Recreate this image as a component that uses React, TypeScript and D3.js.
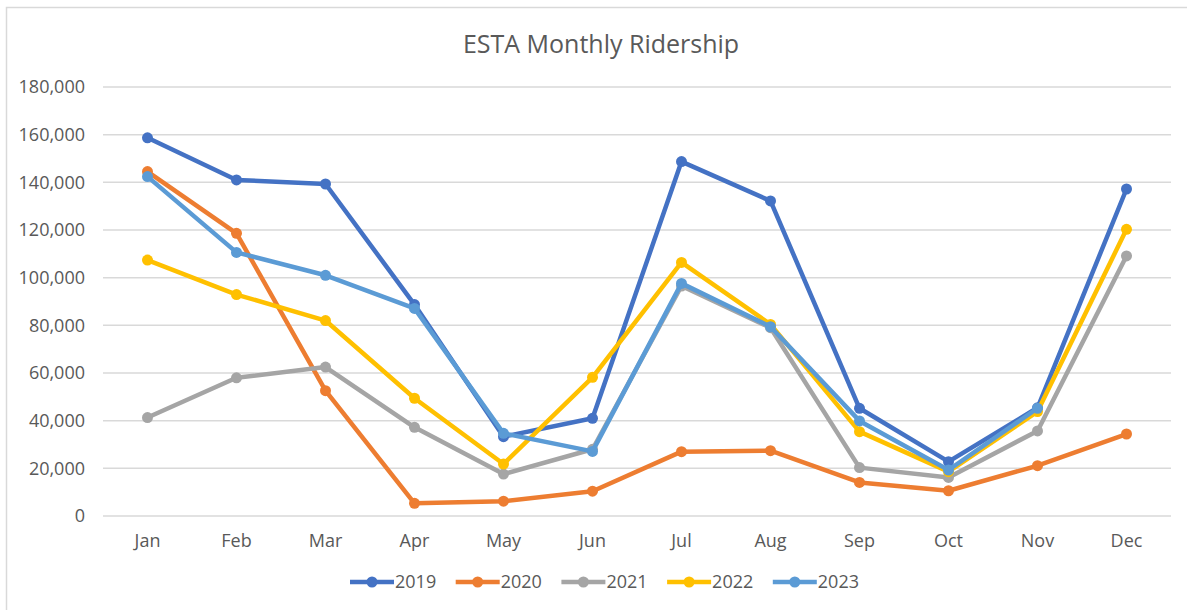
import React, { useEffect, useRef } from "react";
import * as d3 from "d3";

const months = ["Jan", "Feb", "Mar", "Apr", "May", "Jun", "Jul", "Aug", "Sep", "Oct", "Nov", "Dec"];
const years = ["2019", "2020", "2021", "2022", "2023"];
const colors = ["#4472C4", "#ED7D31", "#A5A5A5", "#FFC000", "#5B9BD5"];

const r2019 = [158700, 141000, 139300, 88700, 33300, 41000, 148700, 132200, 45200, 22800, 45400, 137200];
const r2020 = [144500, 118600, 52600, 5300, 6200, 10400, 27000, 27400, 14100, 10600, 21100, 34400];
const r2021 = [41300, 58000, 62500, 37200, 17600, 28000, 96500, 79000, 20300, 16200, 35700, 109100];
const r2022 = [107400, 92900, 82000, 49400, 21800, 58200, 106400, 80400, 35400, 18600, 43800, 120300];
const r2023 = [142400, 110600, 101000, 87100, 34700, 27100, 97600, 79400, 39900, 19300, 45200];

const yTicks = [0, 20000, 40000, 60000, 80000, 100000, 120000, 140000, 160000, 180000];

const App: React.FC = () => {
  const svgRef = useRef<SVGSVGElement>(null);

  useEffect(() => {
    if (!svgRef.current) return;
    const width = 1187;
    const height = 610;
    const font = "'Open Sans', 'Liberation Sans', sans-serif";
    const textColor = "#595959";

    const series = [r2019, r2020, r2021, r2022, r2023];

    const svg = d3.select(svgRef.current).attr("width", width).attr("height", height);
    svg.selectAll("*").remove();

    // chart frame
    svg
      .append("rect")
      .attr("x", 6.5)
      .attr("y", 7.5)
      .attr("width", 1200)
      .attr("height", 620)
      .attr("fill", "#fff")
      .attr("stroke", "#d9d9d9")
      .attr("stroke-width", 1.5);

    const xScale = d3.scaleBand<string>().domain(months).range([103, 1171]);
    const yScale = d3.scaleLinear().domain([0, 180000]).range([516, 87]);
    const cx = (m: string) => (xScale(m) || 0) + xScale.bandwidth() / 2;

    // title
    svg
      .append("text")
      .attr("x", 601)
      .attr("y", 53)
      .attr("text-anchor", "middle")
      .attr("font-family", font)
      .attr("font-size", 25)
      .attr("fill", textColor)
      .text("ESTA Monthly Ridership");

    // gridlines + y labels
    const yAxis = svg.append("g");
    yAxis
      .selectAll("line")
      .data(yTicks)
      .join("line")
      .attr("x1", 103)
      .attr("x2", 1171)
      .attr("y1", (d) => yScale(d))
      .attr("y2", (d) => yScale(d))
      .attr("stroke", "#d9d9d9")
      .attr("stroke-width", 1.5);
    yAxis
      .selectAll("text")
      .data(yTicks)
      .join("text")
      .attr("x", 85)
      .attr("y", (d) => yScale(d))
      .attr("dy", "0.35em")
      .attr("text-anchor", "end")
      .attr("font-family", font)
      .attr("font-size", 18)
      .attr("fill", textColor)
      .text((d) => d3.format(",")(d));

    // x labels
    svg
      .append("g")
      .selectAll("text")
      .data(months)
      .join("text")
      .attr("x", (d) => cx(d))
      .attr("y", 541)
      .attr("dy", "0.35em")
      .attr("text-anchor", "middle")
      .attr("font-family", font)
      .attr("font-size", 18)
      .attr("fill", textColor)
      .text((d) => d);

    const line = d3
      .line<number>()
      .x((_, i) => cx(months[i]))
      .y((d) => yScale(d));

    series.forEach((vals, si) => {
      const g = svg.append("g");
      g.append("path")
        .datum(vals)
        .attr("fill", "none")
        .attr("stroke", colors[si])
        .attr("stroke-width", 4.5)
        .attr("stroke-linejoin", "round")
        .attr("d", line);
      g.selectAll("circle")
        .data(vals)
        .join("circle")
        .attr("cx", (_, i) => cx(months[i]))
        .attr("cy", (d) => yScale(d))
        .attr("r", 5.5)
        .attr("fill", colors[si]);
    });

    // legend
    const legend = svg.append("g");
    years.forEach((y, i) => {
      const x0 = 350 + i * 105.7;
      const ly = 582;
      legend
        .append("line")
        .attr("x1", x0)
        .attr("x2", x0 + 44)
        .attr("y1", ly)
        .attr("y2", ly)
        .attr("stroke", colors[i])
        .attr("stroke-width", 4.5);
      legend
        .append("circle")
        .attr("cx", x0 + 22)
        .attr("cy", ly)
        .attr("r", 5.5)
        .attr("fill", colors[i]);
      legend
        .append("text")
        .attr("x", x0 + 45)
        .attr("y", ly)
        .attr("dy", "0.35em")
        .attr("font-family", font)
        .attr("font-size", 18)
        .attr("fill", textColor)
        .text(y);
    });
  }, []);

  return (
    <div style={{ position: "absolute", left: 0, top: 0 }}>
      <svg ref={svgRef} style={{ display: "block" }}></svg>
    </div>
  );
};

export default App;
